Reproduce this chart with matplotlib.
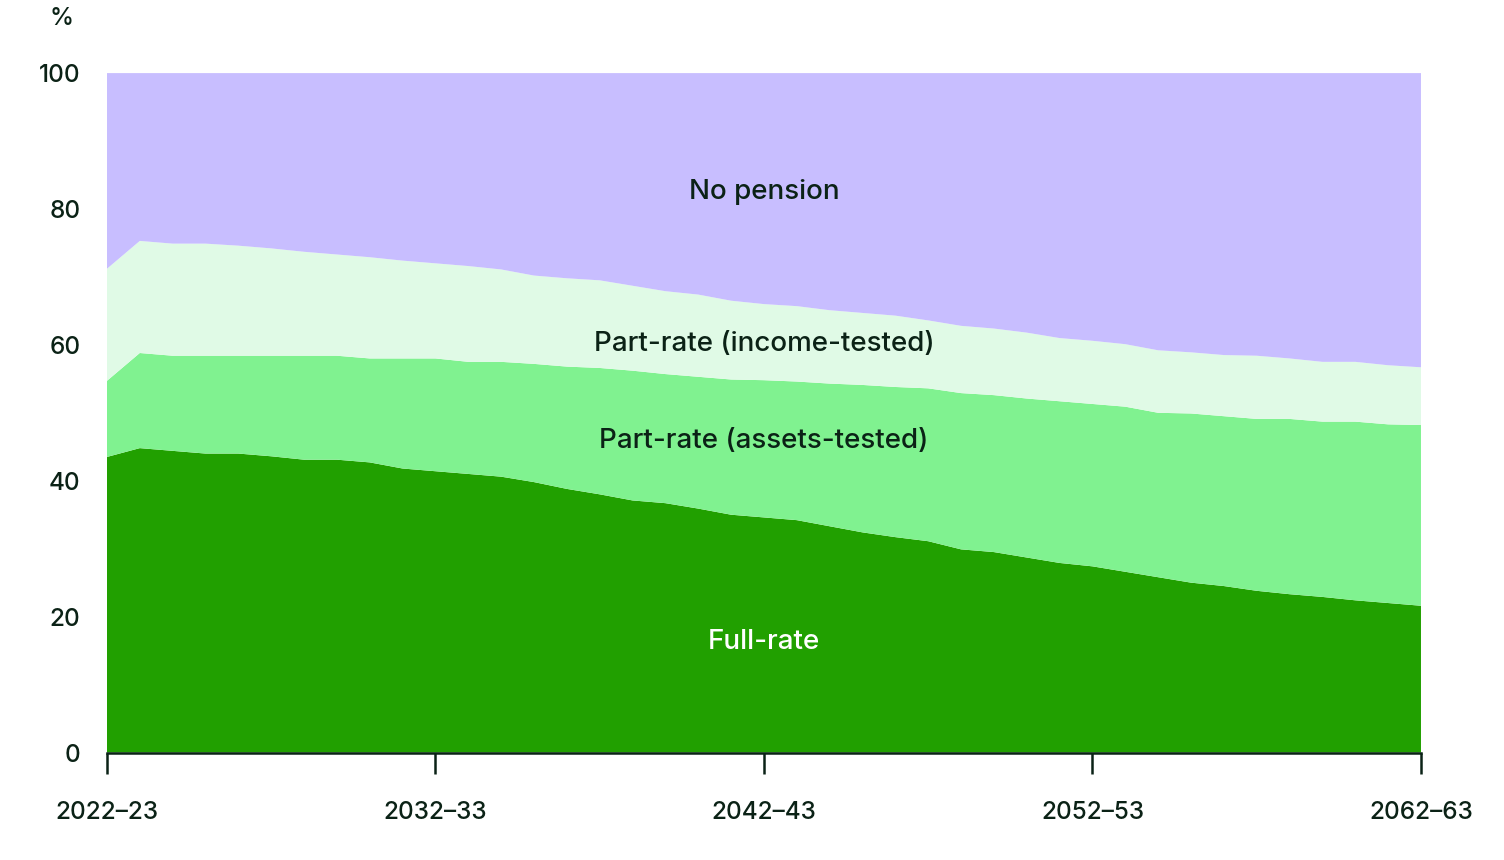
import numpy as np
import matplotlib.pyplot as plt

years = [f"{y}–{(y + 1) % 100:02d}" for y in range(2022, 2063)]

full_rate = [43.5, 44.8, 44.4, 44.0, 44.0, 43.6, 43.1, 43.1, 42.7, 41.8,
             41.4, 41.0, 40.6, 39.8, 38.8, 38.0, 37.1, 36.7, 35.9, 35.0,
             34.6, 34.2, 33.3, 32.4, 31.7, 31.1, 29.9, 29.5, 28.7, 27.9,
             27.4, 26.6, 25.8, 25.0, 24.5, 23.8, 23.3, 22.9, 22.4, 22.0, 21.6]

assets_tested = [11.2, 14.0, 14.0, 14.4, 14.4, 14.8, 15.3, 15.3, 15.3, 16.2,
                 16.6, 16.5, 16.9, 17.4, 18.0, 18.6, 19.1, 19.0, 19.4, 19.9,
                 20.2, 20.4, 21.0, 21.7, 22.1, 22.5, 23.0, 23.1, 23.4, 23.8,
                 23.9, 24.3, 24.2, 24.9, 25.0, 25.3, 25.8, 25.8, 26.3, 26.3, 26.6]

income_tested = [16.5, 16.5, 16.5, 16.5, 16.2, 15.8, 15.3, 14.9, 14.9, 14.4,
                 14.0, 14.1, 13.6, 13.0, 13.0, 12.9, 12.5, 12.2, 12.1, 11.6,
                 11.2, 11.1, 10.8, 10.6, 10.5, 10.0, 9.9, 9.8, 9.7, 9.3,
                 9.3, 9.2, 9.2, 9.0, 9.0, 9.3, 8.9, 8.8, 8.8, 8.7, 8.5]

no_pension = [28.8, 24.7, 25.1, 25.1, 25.4, 25.8, 26.3, 26.7, 27.1, 27.6,
              28.0, 28.4, 28.9, 29.8, 30.2, 30.5, 31.3, 32.1, 32.6, 33.5,
              34.0, 34.3, 34.9, 35.3, 35.7, 36.4, 37.2, 37.6, 38.2, 39.0,
              39.4, 39.9, 40.8, 41.1, 41.5, 41.6, 42.0, 42.5, 42.5, 43.0, 43.3]

colors = ["#21a000", "#80f290", "#e0fae6", "#c8beff"]
ink = "#0b2216"

plt.rcParams["font.family"] = ["Inter", "DejaVu Sans"]
plt.rcParams["font.weight"] = 500

fig = plt.figure(figsize=(15.04, 8.6), dpi=100)
ax = fig.add_axes([0.0711, 0.125, 0.8737, 0.790])

x = np.arange(len(years))
ax.stackplot(x, full_rate, assets_tested, income_tested, no_pension,
             colors=colors, linewidth=0)

ax.set_xlim(0, len(years) - 1)
ax.set_ylim(0, 100)

ax.set_xticks(x[::10])
ax.set_xticklabels(years[::10])
ax.set_yticks([0, 20, 40, 60, 80, 100])

ax.tick_params(axis="x", length=15, width=1.8, color=ink, pad=20,
               labelsize=17.5, labelcolor=ink)
ax.tick_params(axis="y", length=0, pad=19, labelsize=17.5, labelcolor=ink)

for s in ["top", "right", "left"]:
    ax.spines[s].set_visible(False)
ax.spines["bottom"].set_color(ink)
ax.spines["bottom"].set_linewidth(1.8)

fig.text(0.041, 0.992, "%", ha="center", va="top", fontsize=17.5, color=ink)

ax.text(20, 82.5, "No pension", ha="center", va="center", fontsize=20, color=ink)
ax.text(20, 60.1, "Part-rate (income-tested)", ha="center", va="center",
        fontsize=20, color=ink)
ax.text(20, 45.8, "Part-rate (assets-tested)", ha="center", va="center",
        fontsize=20, color=ink)
ax.text(20, 16.3, "Full-rate", ha="center", va="center", fontsize=20,
        color="white")

fig.savefig("out.png", dpi=100)
